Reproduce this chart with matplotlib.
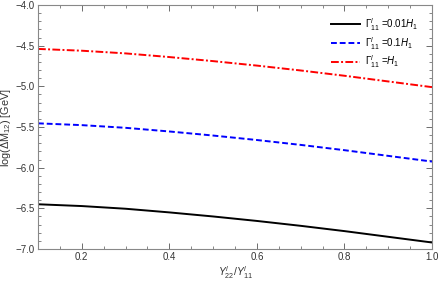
import numpy as np
import matplotlib.pyplot as plt
from matplotlib.ticker import MultipleLocator

ratio = [0.1, 0.2, 0.3, 0.4, 0.5, 0.6, 0.7, 0.8, 0.9, 1.0]
gamma_001 = [-6.450, -6.472, -6.505, -6.550, -6.600, -6.655, -6.715, -6.780, -6.850, -6.920]
gamma_01 = [-5.455, -5.477, -5.510, -5.555, -5.605, -5.660, -5.720, -5.785, -5.855, -5.925]
gamma_1 = [-4.540, -4.562, -4.595, -4.640, -4.690, -4.745, -4.805, -4.870, -4.940, -5.010]

labels = [r"$\Gamma^{l}_{11}$ =0.01$H_1$", r"$\Gamma^{l}_{11}$ =0.1$H_1$", r"$\Gamma^{l}_{11}$ =$H_1$"]

plt.rcParams["font.family"] = "Liberation Sans"
plt.rcParams["mathtext.fontset"] = "custom"
plt.rcParams["mathtext.rm"] = "Liberation Sans"
plt.rcParams["mathtext.it"] = "Liberation Sans:italic"

fig = plt.figure(figsize=(4.4, 2.83), dpi=100)
ax = fig.add_axes([38 / 440, 1 - 249 / 283, 394 / 440, 244 / 283])

ax.plot(ratio, gamma_001, color="black", linestyle="-", linewidth=1.4, label=labels[0])
ax.plot(ratio, gamma_01, color="blue", linestyle=(0, (3, 1.5)), linewidth=1.4, label=labels[1])
ax.plot(ratio, gamma_1, color="red", linestyle=(0, (4, 1.2, 1, 1.2)), linewidth=1.4, label=labels[2])

ax.set_xlim(0.1, 1.0)
ax.set_ylim(-7.0, -4.0)
ax.xaxis.set_major_locator(MultipleLocator(0.2))
ax.xaxis.set_minor_locator(MultipleLocator(0.05))
ax.yaxis.set_major_locator(MultipleLocator(0.5))
ax.yaxis.set_minor_locator(MultipleLocator(0.1))
ax.tick_params(which="both", direction="in", top=True, right=True, labelsize=7,
               colors="#555555", labelcolor="#333333", pad=2.5)
ax.tick_params(which="major", length=4, width=0.6)
ax.tick_params(which="minor", length=2, width=0.5)
ax.xaxis.set_major_formatter(plt.FuncFormatter(lambda v, p: f"{v:.1f}"))
ax.yaxis.set_major_formatter(plt.FuncFormatter(lambda v, p: f"\u2212{abs(v):.1f}"))
for s in ax.spines.values():
    s.set_color("#888888")
    s.set_linewidth(0.8)

ax.set_xlabel(r"$Y^{l}_{22}/Y^{l}_{11}$", fontsize=7.5, color="#333333", labelpad=1)
ax.set_ylabel(r"log($\Delta$M$_{12}$) [GeV]", fontsize=7.8, color="#333333", labelpad=2)

ax.legend(loc="upper left", frameon=False, fontsize=7, handlelength=3.0, handletextpad=0.5,
          labelspacing=0.2, borderaxespad=0, borderpad=0,
          bbox_to_anchor=((331 - 38) / 394, (249 - 16) / 244))

fig.savefig("out.png", dpi=100)
